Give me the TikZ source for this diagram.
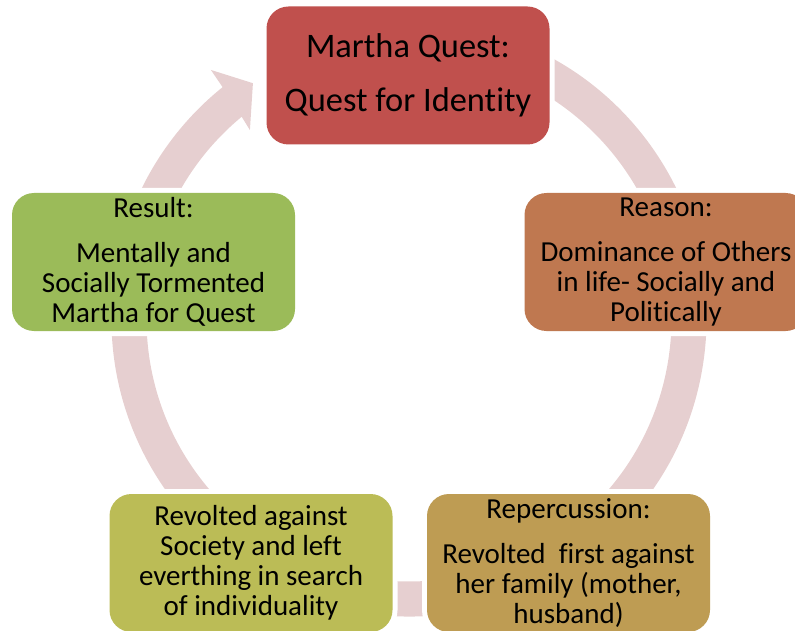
\documentclass[tikz,border=0pt]{standalone}
\usepackage{fontspec}
\setmainfont{Carlito}[Ligatures=NoCommon]

\definecolor{ringpink}{HTML}{E6CFD0}
\definecolor{cTop}{HTML}{C0504D}
\definecolor{cReason}{HTML}{BF7850}
\definecolor{cRep}{HTML}{BE9C53}
\definecolor{cRev}{HTML}{BBBC56}
\definecolor{cRes}{HTML}{9BBB59}

\begin{document}
\begin{tikzpicture}[x=1pt,y=-1pt,
  stage/.style={rounded corners=22pt, minimum width=283pt, minimum height=138pt,
    inner sep=0pt, align=center, text=black,
    preaction={draw=white, line width=10pt}},
  bodytext/.style={font=\fontsize{29}{30}\selectfont},
  titletext/.style={font=\fontsize{34.4}{37}\selectfont}]

\useasboundingbox (0,0) rectangle (795,631);
\clip (0,0) rectangle (795,631);

% circular arrow ring behind the stages
\coordinate (ringc) at (409,319);
\begin{scope}[shift={(ringc)}]
  \fill[ringpink] (-80:297.5) arc[start angle=-80, end angle=231.2, radius=297.5]
    -- (231.5:318.3) -- (236.5:282.8) -- (229.9:247) -- (230.4:262.5)
    arc[start angle=230.4, end angle=-80, radius=262.5] -- cycle;
\end{scope}

% stages of the cycle
\node[stage, titletext, fill=cTop] (quest) at (408,75.5)
  {Martha Quest:\\[17pt]Quest for Identity};
\node[stage, bodytext, fill=cReason] (reason) at (666,262)
  {Reason:\\[15pt]Dominance of Others\\in life- Socially and\\Politically};
\node[stage, bodytext, fill=cRep] (reperc) at (568.5,563)
  {Repercussion:\\[15pt]Revolted\ \ first against\\her family (mother,\\husband)};
\node[stage, bodytext, fill=cRev] (revolt) at (251,563)
  {Revolted against\\Society and left\\everthing in search\\of individuality};
\node[stage, bodytext, fill=cRes] (result) at (153.5,262)
  {Result:\\[15pt]Mentally and\\Socially Tormented\\Martha for Quest};
\end{tikzpicture}
\end{document}
